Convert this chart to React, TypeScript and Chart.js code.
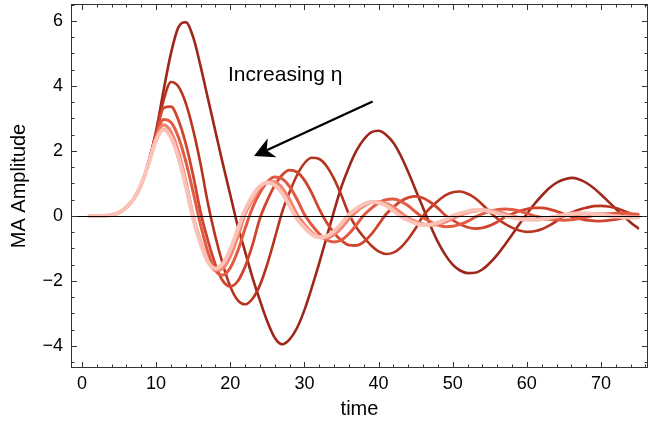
import React, { useEffect, useRef } from 'react';
import { Chart, registerables } from 'chart.js';

Chart.register(...registerables);

// time axis (t = 1 .. 75)
const time: number[] = Array.from({ length: 75 }, (_, i) => i + 1);

// MA amplitude for increasing eta (darkest = smallest eta)
const eta1 = [0, 0, 0.005, 0.03, 0.1, 0.27, 0.53, 0.97,
  1.68, 2.62, 3.85, 5.0, 5.8, 5.96, 5.5, 4.6, 3.6, 2.6,
  1.6, 0.65, -0.3, -1.1, -1.9, -2.6, -3.25, -3.75, -3.95, -3.8,
  -3.45, -2.9, -2.2, -1.45, -0.65, 0.15, 0.9, 1.5, 2.0, 2.35,
  2.57, 2.62, 2.5, 2.25, 1.85, 1.35, 0.8, 0.25, -0.3, -0.8,
  -1.2, -1.5, -1.68, -1.76, -1.75, -1.65, -1.45, -1.2, -0.9, -0.58,
  -0.25, 0.06, 0.36, 0.62, 0.85, 1.02, 1.12, 1.17, 1.13, 1.02,
  0.86, 0.66, 0.44, 0.22, 0.0, -0.2, -0.38];
const eta2 = [0, 0, 0.005, 0.03, 0.1, 0.27, 0.53, 0.97,
  1.66, 2.55, 3.55, 4.12, 3.98, 3.47, 2.64, 1.59, 0.37, -0.64,
  -1.49, -2.17, -2.59, -2.72, -2.55, -2.13, -1.48, -0.69, 0.12, 0.73,
  1.25, 1.62, 1.79, 1.75, 1.53, 1.14, 0.63, 0.06, -0.35, -0.65,
  -0.91, -1.09, -1.17, -1.13, -0.97, -0.71, -0.38, 0.0, 0.25, 0.46,
  0.63, 0.73, 0.75, 0.68, 0.55, 0.35, 0.12, -0.08, -0.24, -0.36,
  -0.45, -0.49, -0.47, -0.41, -0.3, -0.16, 0.0, 0.1, 0.19, 0.25,
  0.3, 0.31, 0.29, 0.24, 0.16, 0.07, -0.02];
const eta3 = [0, 0, 0.005, 0.03, 0.1, 0.27, 0.53, 0.97,
  1.65, 2.5, 3.32, 3.36, 2.95, 2.22, 1.24, 0.11, -0.77, -1.5,
  -2.0, -2.17, -2.01, -1.56, -0.89, -0.08, 0.48, 0.94, 1.26, 1.41,
  1.35, 1.1, 0.7, 0.21, -0.2, -0.52, -0.76, -0.9, -0.91, -0.8,
  -0.57, -0.27, 0.05, 0.27, 0.45, 0.56, 0.6, 0.55, 0.42, 0.24,
  0.02, -0.13, -0.26, -0.35, -0.39, -0.37, -0.3, -0.19, -0.04, 0.06,
  0.15, 0.21, 0.25, 0.25, 0.21, 0.14, 0.06, -0.02, -0.08, -0.13,
  -0.15, -0.16, -0.14, -0.11, -0.06, 0.0, 0.04];
const eta4 = [0, 0, 0.005, 0.03, 0.1, 0.27, 0.53, 0.97,
  1.64, 2.45, 2.97, 2.88, 2.43, 1.68, 0.73, -0.28, -1.12, -1.68,
  -1.82, -1.6, -1.09, -0.39, 0.25, 0.71, 1.05, 1.2, 1.14, 0.9,
  0.51, 0.05, -0.28, -0.55, -0.74, -0.8, -0.74, -0.55, -0.28, 0.02,
  0.23, 0.4, 0.5, 0.52, 0.45, 0.31, 0.12, -0.05, -0.18, -0.28,
  -0.33, -0.32, -0.26, -0.17, -0.04, 0.06, 0.14, 0.19, 0.21, 0.2,
  0.15, 0.08, 0.0, -0.05, -0.1, -0.12, -0.13, -0.12, -0.08, -0.04,
  0.01, 0.04, 0.065, 0.08, 0.08, 0.07, 0.05];
const eta5 = [0, 0, 0.005, 0.03, 0.1, 0.27, 0.53, 0.97,
  1.63, 2.4, 2.8, 2.59, 1.98, 1.07, 0.0, -0.78, -1.39, -1.68,
  -1.62, -1.25, -0.65, 0.05, 0.5, 0.86, 1.05, 1.05, 0.86, 0.5,
  0.05, -0.26, -0.51, -0.66, -0.68, -0.58, -0.37, -0.09, 0.13, 0.3,
  0.41, 0.44, 0.39, 0.27, 0.1, -0.06, -0.17, -0.25, -0.28, -0.26,
  -0.19, -0.08, 0.02, 0.1, 0.15, 0.18, 0.17, 0.13, 0.07, 0.0,
  -0.05, -0.09, -0.11, -0.11, -0.09, -0.05, 0.0, 0.03, 0.05, 0.07,
  0.07, 0.06, 0.04, 0.01, -0.02, -0.03, -0.04];
const eta6 = [0, 0, 0.005, 0.03, 0.1, 0.27, 0.53, 0.97,
  1.62, 2.33, 2.66, 2.42, 1.8, 0.92, -0.08, -0.86, -1.42, -1.62,
  -1.47, -1.04, -0.42, 0.18, 0.61, 0.91, 1.03, 0.95, 0.7, 0.31,
  -0.09, -0.36, -0.57, -0.66, -0.62, -0.47, -0.23, 0.04, 0.22, 0.36,
  0.43, 0.41, 0.32, 0.16, -0.01, -0.13, -0.23, -0.28, -0.27, -0.21,
  -0.12, 0.0, 0.08, 0.14, 0.18, 0.18, 0.14, 0.08, 0.01, -0.05,
  -0.09, -0.12, -0.12, -0.1, -0.06, -0.01, 0.03, 0.06, 0.08, 0.08,
  0.06, 0.04, 0.01, -0.02, -0.04, -0.05, -0.05];

const series = [eta1, eta2, eta3, eta4, eta5, eta6];
const colors = ['#9d2719', '#b8341f', '#cf452e', '#e25a42', '#f2836d', '#fbc3b8'];
const widths = [2.6, 2.6, 2.8, 3, 3.2, 4];

// axis ticks
const xTicks = [0, 10, 20, 30, 40, 50, 60, 70];
const xMinorTicks = [2, 4, 6, 8, 12, 14, 16, 18, 22, 24, 26, 28, 32, 34, 36, 38, 42, 44, 46, 48, 52, 54, 56, 58, 62, 64, 66, 68, 72, 74, 76];
const yTicks = [-4, -2, 0, 2, 4, 6];
const yMinorTicks = [-4.5, -3.5, -3, -2.5, -1.5, -1, -0.5, 0.5, 1, 1.5, 2.5, 3, 3.5, 4.5, 5, 5.5, 6.5];

// annotation (data coordinates)
const labelText = 'Increasing η';
const labelAt = { x: 19.7, y: 4.34 };
const arrowTail = { x: 39.2, y: 3.52 };
const arrowTip = { x: 23.2, y: 1.84 };

const FONT = "'Liberation Sans', Arial, Helvetica, sans-serif";

const framePlugin = {
  id: 'framePlugin',
  afterDatasetsDraw(chart: any) {
    const { ctx, chartArea, scales } = chart;
    const { left, right, top, bottom } = chartArea;
    const xs = scales.x;
    const ys = scales.y;
    ctx.save();
    // zero axis line
    const y0 = Math.round(ys.getPixelForValue(0)) + 0.5;
    ctx.strokeStyle = '#000';
    ctx.lineWidth = 1;
    ctx.beginPath();
    ctx.moveTo(left, y0);
    ctx.lineTo(right, y0);
    ctx.stroke();

    // frame
    ctx.strokeStyle = '#333';
    ctx.lineWidth = 1;
    ctx.strokeRect(left + 0.5, top + 0.5, right - left - 1, bottom - top - 1);

    // inward ticks
    const drawX = (v: number, len: number) => {
      const px = Math.round(xs.getPixelForValue(v)) + 0.5;
      if (px < left || px > right) return;
      ctx.beginPath();
      ctx.moveTo(px, bottom);
      ctx.lineTo(px, bottom - len);
      ctx.moveTo(px, top);
      ctx.lineTo(px, top + len);
      ctx.stroke();
    };
    const drawY = (v: number, len: number) => {
      const py = Math.round(ys.getPixelForValue(v)) + 0.5;
      if (py < top || py > bottom) return;
      ctx.beginPath();
      ctx.moveTo(left, py);
      ctx.lineTo(left + len, py);
      ctx.moveTo(right, py);
      ctx.lineTo(right - len, py);
      ctx.stroke();
    };
    xTicks.forEach((v) => drawX(v, 6));
    xMinorTicks.forEach((v) => drawX(v, 3.5));
    yTicks.forEach((v) => drawY(v, 6));
    yMinorTicks.forEach((v) => drawY(v, 3.5));

    // annotation text
    ctx.fillStyle = '#000';
    ctx.font = `21px ${FONT}`;
    ctx.textAlign = 'left';
    ctx.textBaseline = 'middle';
    ctx.fillText(labelText, xs.getPixelForValue(labelAt.x), ys.getPixelForValue(labelAt.y));

    // arrow
    const tx = xs.getPixelForValue(arrowTail.x);
    const ty = ys.getPixelForValue(arrowTail.y);
    const hx = xs.getPixelForValue(arrowTip.x);
    const hy = ys.getPixelForValue(arrowTip.y);
    const dx = tx - hx;
    const dy = ty - hy;
    const L = Math.hypot(dx, dy);
    const ux = dx / L;
    const uy = dy / L;
    const nx = -uy;
    const ny = ux;
    const headLen = 20;
    const headHalf = 10.5;
    const notch = 14;
    ctx.strokeStyle = '#000';
    ctx.lineWidth = 2.4;
    ctx.beginPath();
    ctx.moveTo(tx, ty);
    ctx.lineTo(hx + ux * notch, hy + uy * notch);
    ctx.stroke();
    ctx.beginPath();
    ctx.moveTo(hx, hy);
    ctx.lineTo(hx + ux * headLen + nx * headHalf, hy + uy * headLen + ny * headHalf);
    ctx.lineTo(hx + ux * notch, hy + uy * notch);
    ctx.lineTo(hx + ux * headLen - nx * headHalf, hy + uy * headLen - ny * headHalf);
    ctx.closePath();
    ctx.fillStyle = '#000';
    ctx.fill();
    ctx.restore();
  },
};

export default function App() {
  const canvasRef = useRef<HTMLCanvasElement | null>(null);

  useEffect(() => {
    const canvas = canvasRef.current;
    if (!canvas) return;
    Chart.defaults.font.family = FONT;
    Chart.defaults.color = '#000';

    const datasets = series.map((arr, i) => ({
      label: `eta${i + 1}`,
      data: time.map((t, j) => ({ x: t, y: arr[j] })),
      borderColor: colors[i],
      backgroundColor: colors[i],
      borderWidth: widths[i],
      pointRadius: 0,
      fill: false,
      cubicInterpolationMode: 'monotone' as const,
      borderCapStyle: 'round' as const,
      borderJoinStyle: 'round' as const,
      order: series.length - i,
    }));

    const chart = new Chart(canvas, {
      type: 'line',
      data: { datasets },
      options: {
        responsive: false,
        animation: false,
        devicePixelRatio: 1,
        layout: { padding: { left: 0, right: 1, top: 4, bottom: 0 } },
        plugins: {
          legend: { display: false },
          tooltip: { enabled: false },
        },
        scales: {
          x: {
            type: 'linear',
            min: -1.48,
            max: 76.34,
            afterBuildTicks: (s: any) => {
              s.ticks = xTicks.map((v) => ({ value: v }));
            },
            afterFit: (s: any) => {
              s.height = 56;
              s.paddingLeft = 0;
              s.paddingRight = 0;
            },
            grid: { display: false, drawTicks: false },
            border: { display: false },
            ticks: {
              padding: 5,
              color: '#000',
              font: { size: 18, family: FONT },
              maxRotation: 0,
              autoSkip: false,
            },
            title: {
              display: true,
              text: 'time',
              color: '#000',
              font: { size: 20, family: FONT },
              padding: { top: 0, bottom: 3 },
            },
          },
          y: {
            type: 'linear',
            min: -4.68,
            max: 6.52,
            afterBuildTicks: (s: any) => {
              s.ticks = yTicks.map((v) => ({ value: v }));
            },
            afterFit: (s: any) => {
              s.width = 71;
              s.paddingTop = 0;
              s.paddingBottom = 0;
            },
            grid: { display: false, drawTicks: false },
            border: { display: false },
            ticks: {
              padding: 8,
              color: '#000',
              font: { size: 18, family: FONT },
              autoSkip: false,
              callback: (v: any) => (Number(v) < 0 ? '\u2212' + Math.abs(Number(v)) : String(v)),
            },
            title: {
              display: true,
              text: 'MA Amplitude',
              color: '#000',
              font: { size: 20, family: FONT },
              padding: { top: 7, bottom: 0 },
            },
          },
        },
      },
      plugins: [framePlugin],
    });

    return () => {
      chart.destroy();
    };
  }, []);

  return (
    <div style={{ position: 'fixed', left: 0, top: 0, width: 649, height: 424, background: '#fff' }}>
      <canvas ref={canvasRef} width={649} height={424} style={{ display: 'block', width: 649, height: 424 }} />
    </div>
  );
}
